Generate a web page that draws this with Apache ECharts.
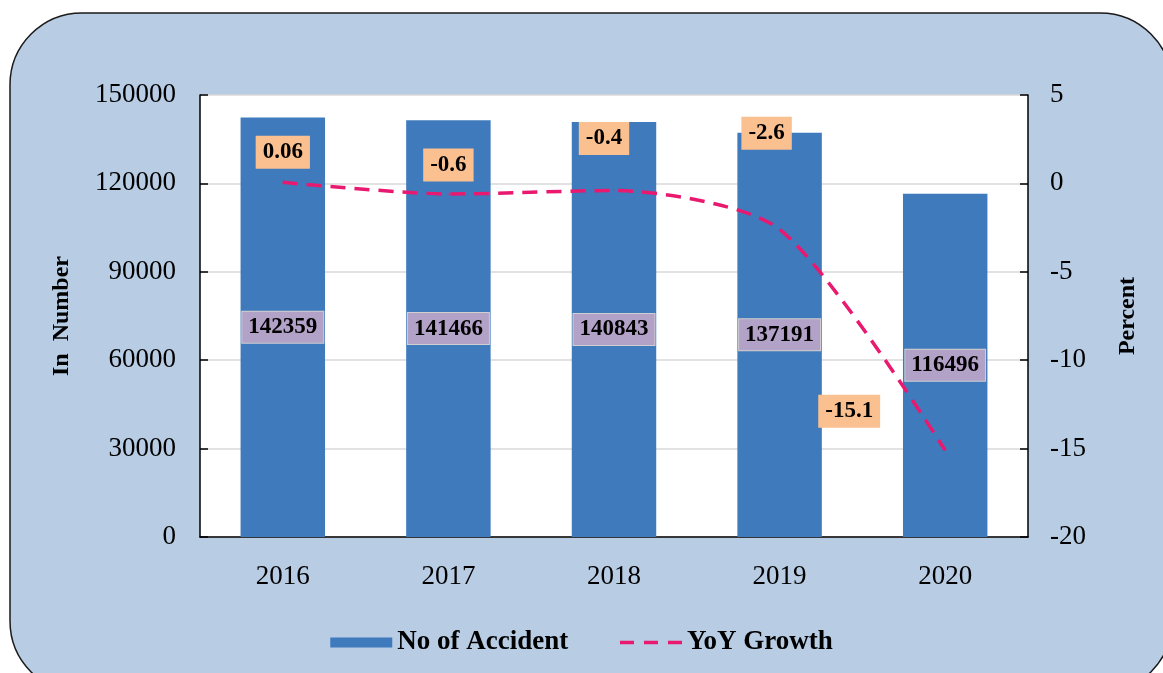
<!DOCTYPE html>
<html>
<head>
<meta charset="utf-8">
<script src="https://cdn.jsdelivr.net/npm/echarts@6/dist/echarts.min.js"></script>
<style>
	html, body {margin: 0; padding: 0; background: #fff;}
	#chart {width: 1163px; height: 673px;}
</style>
</head>
<body>
<div id="chart"></div>
<script>
const years = ['2016', '2017', '2018', '2019', '2020']
const accidents = [142359, 141466, 140843, 137191, 116496]
const yoyGrowth = [0.06, -0.6, -0.4, -2.6, -15.1]

const leftTicks = {min: 0, max: 150000, interval: 30000}
const rightTicks = {min: -20, max: 5, interval: 5}

// where each YoY label sits relative to its point
const yoyLabelShift = [[0, -30], [0, -29], [-10, -52], [-13, -96], [-96, -39]]

const serif = '"Liberation Serif", "Times New Roman", serif'

const chart = echarts.init(document.getElementById('chart'))

chart.setOption({
	backgroundColor: '#fff',
	animation: false,
	textStyle: {fontFamily: serif, color: '#000'},
	graphic: [{
		type: 'rect',
		z: -10,
		shape: {x: 10, y: 13, width: 1162, height: 680, r: 72},
		style: {fill: '#B8CCE4', stroke: '#1a1a1a', lineWidth: 1.5}
	}],
	grid: {
		left: 200,
		right: 135,
		top: 95,
		bottom: 136,
		show: true,
		backgroundColor: '#fff',
		borderWidth: 0
	},
	legend: {
		bottom: 12,
		left: 'center',
		itemGap: 50,
		itemWidth: 62,
		itemHeight: 10,
		textStyle: {fontFamily: serif, fontSize: 27, fontWeight: 'bold', color: '#000'},
		data: [
			{name: 'No of Accident', icon: 'rect'},
			{
				name: 'YoY Growth',
				itemStyle: {color: 'transparent', borderWidth: 0},
				lineStyle: {width: 3.5, type: [14, 10]}
			}
		]
	},
	xAxis: {
		type: 'category',
		data: years,
		axisLine: {lineStyle: {color: '#000', width: 1.5}},
		axisTick: {inside: true, length: 8, lineStyle: {color: '#000', width: 1.5}},
		axisLabel: {fontSize: 27, color: '#000', margin: 26}
	},
	yAxis: [
		{
			type: 'value',
			...leftTicks,
			name: 'In  Number',
			nameLocation: 'middle',
			nameGap: 126,
			nameTextStyle: {fontSize: 24, fontWeight: 'bold', color: '#000'},
			axisLine: {show: true, lineStyle: {color: '#000', width: 1.5}},
			axisTick: {show: true, inside: true, length: 8, lineStyle: {color: '#000', width: 1.5}},
			axisLabel: {fontSize: 27, color: '#000', margin: 24, formatter: v => String(v)},
			splitLine: {lineStyle: {color: '#d9d9d9', width: 1.5}}
		},
		{
			type: 'value',
			...rightTicks,
			name: 'Percent',
			nameLocation: 'middle',
			nameGap: 88,
			nameRotate: 90,
			nameTextStyle: {fontSize: 24, fontWeight: 'bold', color: '#000'},
			axisLine: {show: true, lineStyle: {color: '#000', width: 1.5}},
			axisTick: {show: true, inside: true, length: 8, lineStyle: {color: '#000', width: 1.5}},
			axisLabel: {fontSize: 27, color: '#000', margin: 22},
			splitLine: {show: false}
		}
	],
	series: [
		{
			name: 'No of Accident',
			type: 'bar',
			data: accidents,
			barWidth: '51%',
			itemStyle: {color: '#3F7ABD'},
			label: {
				show: true,
				position: 'inside',
				fontFamily: serif,
				fontSize: 23,
				fontWeight: 'bold',
				color: '#000',
				backgroundColor: '#B3A2C7',
				borderColor: '#d0d0d0',
				borderWidth: 1,
				padding: [5, 6, 3, 6]
			}
		},
		{
			name: 'YoY Growth',
			type: 'line',
			yAxisIndex: 1,
			smooth: 0.25,
			symbol: 'circle',
			symbolSize: 1,
			showSymbol: true,
			lineStyle: {color: '#E8196F', width: 3.5, type: [15, 9]},
			itemStyle: {color: '#E8196F'},
			data: yoyGrowth.map((v, i) => ({
				value: v,
				label: {offset: yoyLabelShift[i]}
			})),
			label: {
				show: true,
				position: 'inside',
				fontFamily: serif,
				fontSize: 23,
				fontWeight: 'bold',
				color: '#000',
				backgroundColor: '#FAC090',
				padding: [6, 7, 4, 7]
			}
		}
	]
})
</script>
</body>
</html>
